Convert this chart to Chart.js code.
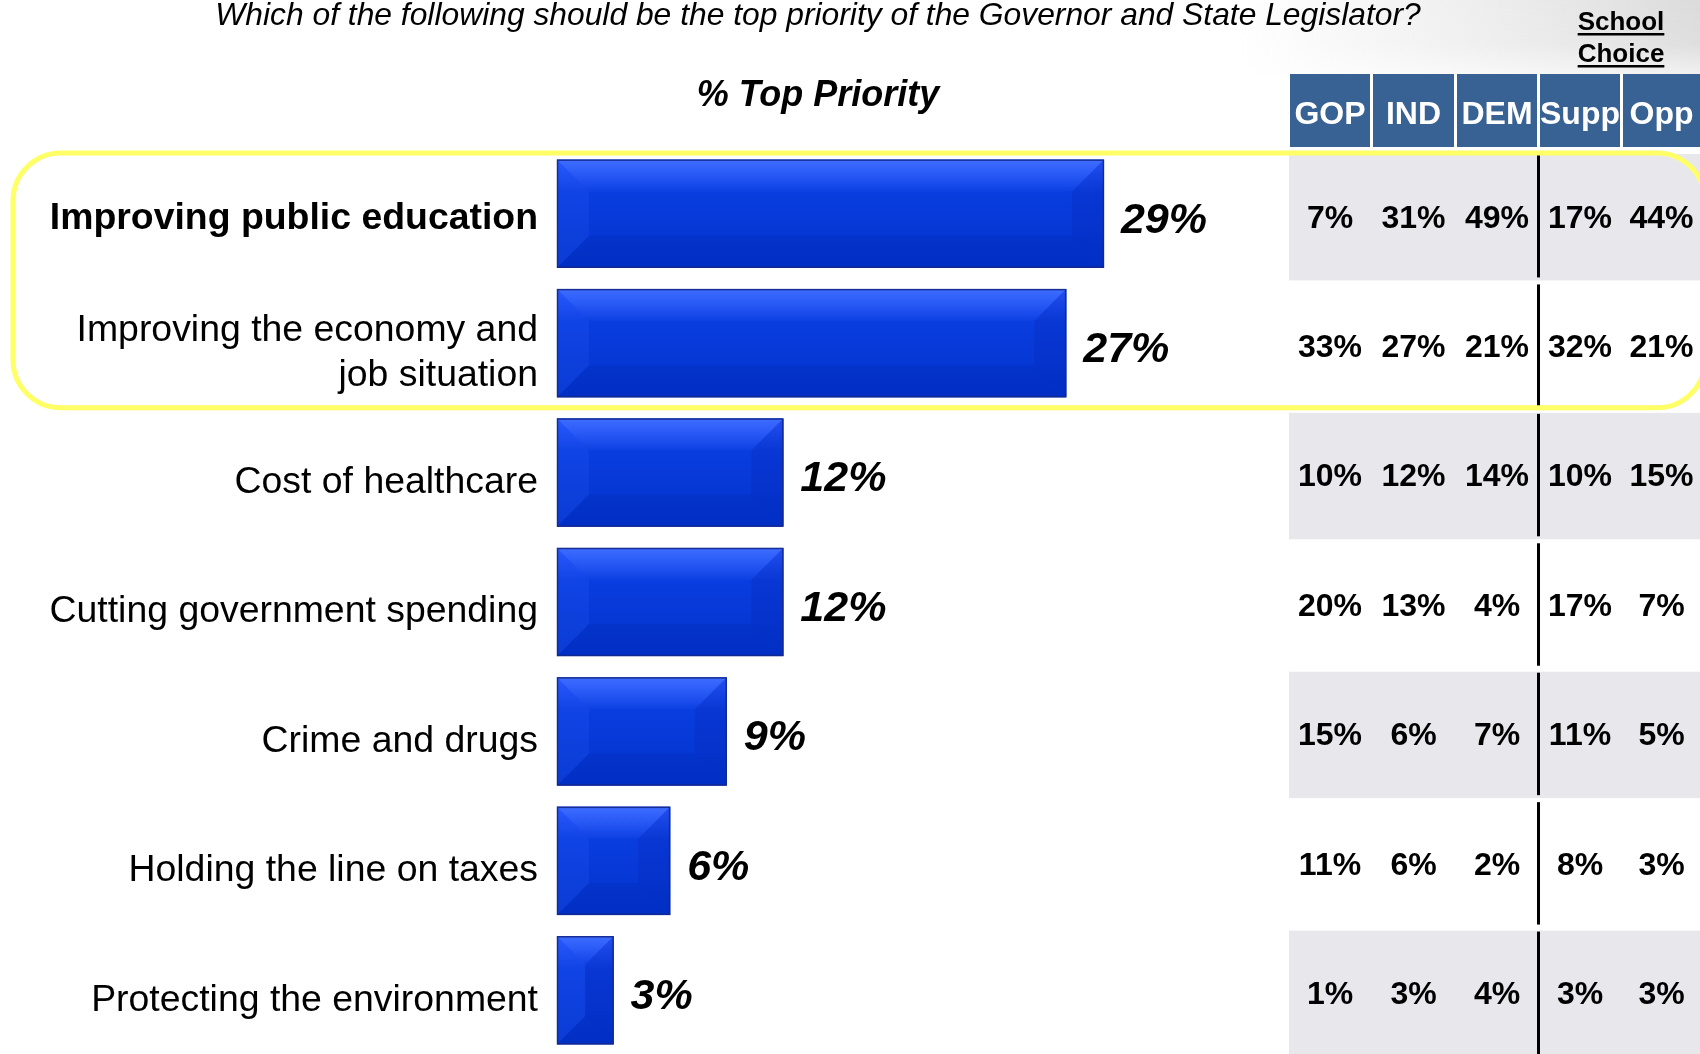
<!DOCTYPE html>
<html>
<head>
<meta charset="utf-8">
<script src="https://cdn.jsdelivr.net/npm/chart.js@4.4.1/dist/chart.umd.min.js"></script>
<style>
  html, body { margin: 0; padding: 0; background: #fff; overflow: hidden; }
  #wrap { position: relative; width: 1700px; height: 1060px; }
</style>
</head>
<body>
<div id="wrap"><canvas id="myChart" width="1700" height="1060"></canvas></div>
<script>
// data
let categories = [
    ["Improving public education"],
    ["Improving the economy and", "job situation"],
    ["Cost of healthcare"],
    ["Cutting government spending"],
    ["Crime and drugs"],
    ["Holding the line on taxes"],
    ["Protecting the environment"]
];
let topPriority = [29, 27, 12, 12, 9, 6, 3];
let tableHeaders = ["GOP", "IND", "DEM", "Supp", "Opp"];
let gopPct = [7, 33, 10, 20, 15, 11, 1];
let indPct = [31, 27, 12, 13, 6, 6, 3];
let demPct = [49, 21, 14, 4, 7, 2, 4];
let suppPct = [17, 32, 10, 17, 11, 8, 3];
let oppPct = [44, 21, 15, 7, 5, 3, 3];
let titleText = "Which of the following should be the top priority of the Governor and State Legislator?";
let subTitle = "% Top Priority";

let tableCols = [gopPct, indPct, demPct, suppPct, oppPct];
let colLeft = [1290, 1373, 1457, 1540, 1623];
let colRight = [1370, 1454, 1537, 1620, 1700];
let FONT = '"Liberation Sans", Arial, sans-serif';

function bandEdges(yScale, i) {
    let c = yScale.getPixelForValue(i);
    let half = (yScale.bottom - yScale.top) / categories.length / 2;
    return [c - half, c + half];
}

// background, header, table rows
let backPlugin = {
    id: "backPlugin",
    beforeDraw(chart) {
        let ctx = chart.ctx;
        let y = chart.scales.y;
        ctx.save();
        // faded photo-ish corner
        let g = ctx.createLinearGradient(1240, 0, 1700, 0);
        g.addColorStop(0, "rgba(225,225,225,0)");
        g.addColorStop(0.5, "rgba(225,225,225,0.55)");
        g.addColorStop(1, "rgba(215,215,215,0.9)");
        ctx.fillStyle = g;
        ctx.fillRect(1240, 0, 460, 74);
        let g2 = ctx.createLinearGradient(0, 0, 0, 74);
        g2.addColorStop(0, "rgba(255,255,255,0)");
        g2.addColorStop(0.6, "rgba(255,255,255,0.1)");
        g2.addColorStop(1, "rgba(255,255,255,0.6)");
        ctx.fillStyle = g2;
        ctx.fillRect(1240, 0, 460, 74);

        // title
        ctx.fillStyle = "#000";
        ctx.textAlign = "center";
        ctx.textBaseline = "alphabetic";
        ctx.font = "italic 31.8px " + FONT;
        ctx.fillText(titleText, 818, 25);
        ctx.font = "italic bold 36px " + FONT;
        ctx.fillText(subTitle, 818, 106);

        // School Choice
        ctx.font = "bold 26px " + FONT;
        ["School", "Choice"].forEach((t, k) => {
            let by = 30 + k * 32;
            ctx.fillText(t, 1621, by);
            let w = ctx.measureText(t).width;
            ctx.fillRect(1621 - w / 2, by + 3, w, 2.5);
        });

        // header cells
        ctx.font = "bold 32px " + FONT;
        ctx.textBaseline = "middle";
        tableHeaders.forEach((h, k) => {
            ctx.fillStyle = "#386194";
            ctx.fillRect(colLeft[k], 74, colRight[k] - colLeft[k], 73);
            ctx.fillStyle = "#fff";
            ctx.fillText(h, (colLeft[k] + colRight[k]) / 2, 115);
        });

        // striped rows
        for (let i = 0; i < categories.length; i++) {
            let [t, b] = bandEdges(y, i);
            if (i % 2 === 0) {
                ctx.fillStyle = "#e8e7ec";
                ctx.fillRect(1289, t + 5, 411, b - t - 3);
            }
            ctx.fillStyle = "#000";
            ctx.fillRect(1537, t + 6, 3, b - t - 7);
            ctx.font = "bold 32px " + FONT;
            tableCols.forEach((col, k) => {
                ctx.fillText(col[i] + "%", (colLeft[k] + colRight[k]) / 2, (t + b) / 2 + 5);
            });
        }

        // highlight box round first two rows
        let top = bandEdges(y, 0)[0] + 4;
        let bot = bandEdges(y, 1)[1];
        ctx.strokeStyle = "#ffff66";
        ctx.lineWidth = 5;
        ctx.beginPath();
        ctx.roundRect(13, top, 1692, bot - top, 48);
        ctx.stroke();
        ctx.restore();
    }
};

function poly(ctx, pts, fill) {
    ctx.beginPath();
    ctx.moveTo(pts[0][0], pts[0][1]);
    for (let p of pts.slice(1)) ctx.lineTo(p[0], p[1]);
    ctx.closePath();
    ctx.fillStyle = fill;
    ctx.fill();
}

// bevelled bars, value labels, category labels
let barPlugin = {
    id: "barPlugin",
    afterDatasetsDraw(chart) {
        let ctx = chart.ctx;
        let meta = chart.getDatasetMeta(0);
        let y = chart.scales.y;
        ctx.save();
        meta.data.forEach((bar, i) => {
            let p = bar.getProps(["x", "y", "base", "height"], true);
            let L = p.base, R = p.x, T = p.y - p.height / 2, B = p.y + p.height / 2;
            let b = Math.min(32, (R - L) / 2, p.height / 2);

            let body = ctx.createLinearGradient(0, T, 0, B);
            body.addColorStop(0, "#2858ff");
            body.addColorStop(0.3, "#0a3ddf");
            body.addColorStop(1, "#0233cc");
            ctx.fillStyle = body;
            ctx.fillRect(L, T, R - L, B - T);

            let topG = ctx.createLinearGradient(0, T, 0, T + b);
            topG.addColorStop(0, "rgba(80,125,255,0.55)");
            topG.addColorStop(1, "rgba(60,110,255,0.05)");
            poly(ctx, [[L, T], [R, T], [R - b, T + b], [L + b, T + b]], topG);
            poly(ctx, [[L, T], [L + b, T + b], [L + b, B - b], [L, B]], "rgba(50,100,255,0.18)");
            poly(ctx, [[R, T], [R, B], [R - b, B - b], [R - b, T + b]], "rgba(0,20,130,0.12)");
            poly(ctx, [[L, B], [L + b, B - b], [R - b, B - b], [R, B]], "rgba(0,20,130,0.1)");

            ctx.strokeStyle = "rgba(20,40,140,0.9)";
            ctx.lineWidth = 1.5;
            ctx.strokeRect(L + 0.5, T + 0.5, R - L - 1, B - T - 1);

            // value label
            ctx.fillStyle = "#000";
            ctx.font = "italic bold 43px " + FONT;
            ctx.textAlign = "left";
            ctx.textBaseline = "middle";
            ctx.fillText(topPriority[i] + "%", R + 17, p.y + 7);
        });

        // category labels
        ctx.textAlign = "right";
        ctx.textBaseline = "middle";
        categories.forEach((lines, i) => {
            let cy = y.getPixelForValue(i) + (i === 0 ? 5 : 10);
            ctx.font = (i === 0 ? "bold " : "") + "37.4px " + FONT;
            let lh = 45;
            lines.forEach((ln, k) => {
                ctx.fillText(ln, 538, cy + (k - (lines.length - 1) / 2) * lh);
            });
        });
        ctx.restore();
    }
};

let ctx = document.getElementById("myChart").getContext("2d");
let myChart = new Chart(ctx, {
    type: "bar",
    data: {
        labels: categories.map(c => c.join(" ")),
        datasets: [{
            data: topPriority,
            backgroundColor: "#0a3de0",
            borderWidth: 0,
            categoryPercentage: 1,
            barPercentage: 0.835,
        }],
    },
    options: {
        indexAxis: "y",
        responsive: false,
        animation: false,
        events: [],
        layout: { padding: { left: 557, right: 388.6, top: 149, bottom: 5 } },
        scales: {
            x: { display: false, min: 0, max: 40 },
            y: { display: false },
        },
        plugins: {
            legend: { display: false },
            tooltip: { enabled: false },
        },
    },
    plugins: [backPlugin, barPlugin],
});
</script>
</body>
</html>
